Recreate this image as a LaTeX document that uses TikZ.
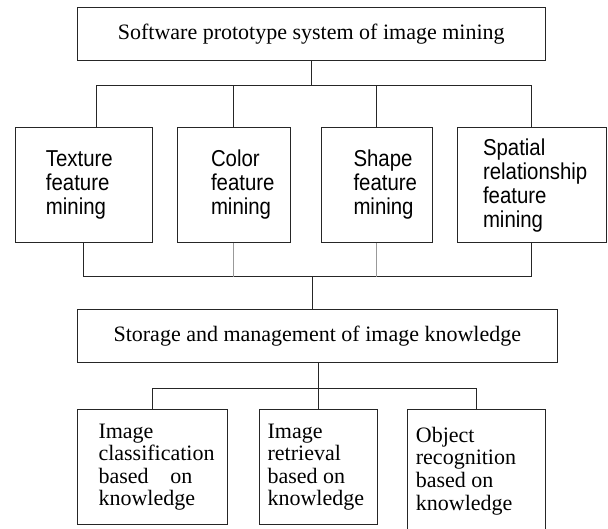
\documentclass[tikz,border=0pt]{standalone}
\usepackage{fontspec}
\setmainfont{Liberation Serif}
\newfontfamily\arialf{Liberation Sans}
\usepackage{graphicx}
\newcommand\midtext[1]{\scalebox{0.887}[1]{\arialf\fontsize{23}{23.7}\selectfont\begin{tabular}[t]{@{}l@{}}#1\end{tabular}}}
\newcommand\lowtext[1]{{\fontsize{22}{22.6}\selectfont\begin{tabular}[t]{@{}l@{}}#1\end{tabular}}}
\begin{document}
\begin{tikzpicture}[x=1pt,y=-1pt,
  box/.style={draw=black!85,line width=1pt,inner sep=0pt,rectangle},
  conn/.style={draw=black!85,line width=1pt},
  faint/.style={draw=black!40,line width=1pt},
  lbl/.style={inner sep=0pt,anchor=base west},
  serif22/.style={font=\fontsize{22}{24}\selectfont}]
\useasboundingbox (0,0) rectangle (608,529);
\fill[white] (0,0) rectangle (608,529);
% boxes
\node[box,serif22,minimum width=467.5pt,minimum height=53.5pt] (top) at (311.25,34.25) {Software prototype system of image mining};
\node[box,minimum width=137.5pt,minimum height=114.6pt] (m1) at (83.75,185) {};
\node[box,minimum width=113pt,minimum height=114.6pt] (m2) at (233.5,185) {};
\node[box,minimum width=111pt,minimum height=114.6pt] (m3) at (376.5,185) {};
\node[box,minimum width=149.5pt,minimum height=114.6pt] (m4) at (531.75,185) {};
\node[box,serif22,minimum width=480pt,minimum height=53.2pt] (st) at (317.3,335.9) {Storage and management of image knowledge};
\node[box,minimum width=150pt,minimum height=114.7pt] (ba) at (152.3,466.65) {};
\node[box,minimum width=118.7pt,minimum height=114.7pt] (bb) at (318.35,466.65) {};
\node[box,minimum width=138.7pt,minimum height=127.7pt] (bc) at (476.35,473.15) {};
% texts
\node[lbl] (t1) at (45.7,166.7) {\midtext{Texture\\feature\\mining}};
\node[lbl] (t2) at (210.8,166.7) {\midtext{Color\\feature\\mining}};
\node[lbl] (t3) at (353.3,166.7) {\midtext{Shape\\feature\\mining}};
\node[lbl] (t4) at (482.8,156) {\midtext{Spatial\\relationship\\feature\\mining}};
\node[lbl] (ta) at (98.3,438) {\lowtext{Image\\classification\\based\hspace{21.7pt}on\\knowledge}};
\node[lbl] (tb) at (267.4,438) {\lowtext{Image\\retrieval\\based on\\knowledge}};
\node[lbl] (tc) at (415.7,442.3) {\lowtext{Object\\recognition\\based on\\knowledge}};
% connectors
\coordinate (hb) at (0,85.7);
\coordinate (lb) at (0,276.6);
\coordinate (bbar) at (0,388.3);
\draw[conn] (top.south) -- (top.south |- hb);
\draw[conn] ([xshift=12.25pt]m1.north) |- (m4.north |- hb) -- (m4.north);
\draw[conn] (m2.north) -- (m2.north |- hb);
\draw[conn] (m3.north) -- (m3.north |- hb);
\draw[conn] (m1.south) |- (m4.south |- lb) -- (m4.south);
\draw[faint] (m2.south) -- (m2.south |- lb);
\draw[faint] (m3.south) -- (m3.south |- lb);
\draw[conn] ([xshift=-5.3pt]st.north |- lb) -- ([xshift=-5.3pt]st.north);
\draw[conn] (bb.north |- st.south) -- (bb.north);
\draw[conn] (ba.north) |- (bc.north |- bbar) -- (bc.north);
\end{tikzpicture}
\end{document}
